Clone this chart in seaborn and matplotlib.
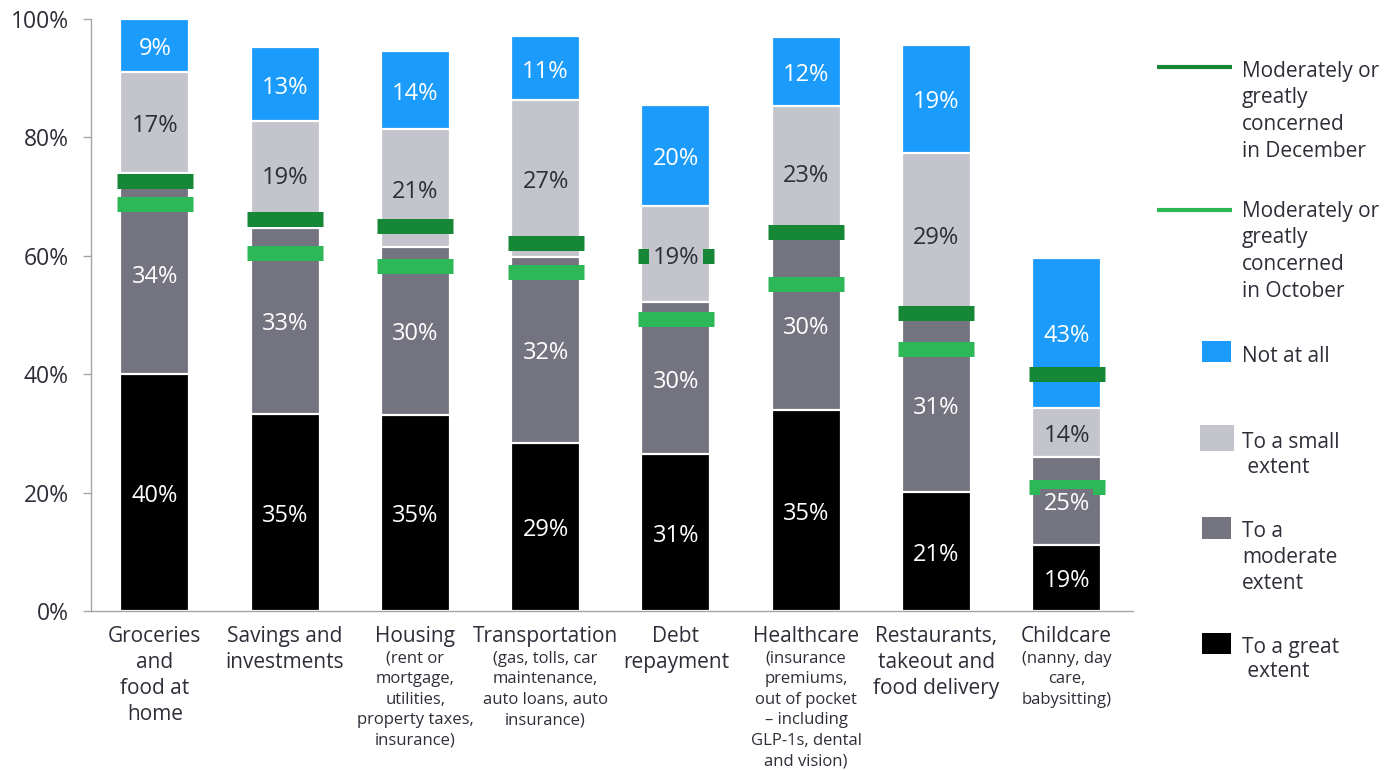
import matplotlib
matplotlib.use("Agg")
import matplotlib.pyplot as plt
from matplotlib.patches import Rectangle
from matplotlib.lines import Line2D
import numpy as np
import pandas as pd
import seaborn as sns

# ---- data ---------------------------------------------------------------
keys = ["groceries", "savings", "housing", "transport", "debt",
        "healthcare", "restaurants", "childcare"]
categories = ["Groceries\nand\nfood at\nhome", "Savings and\ninvestments",
              "Housing", "Transportation", "Debt\nrepayment", "Healthcare",
              "Restaurants,\ntakeout and\nfood delivery", "Childcare"]
details = ["", "",
           "(rent or\nmortgage,\nutilities,\nproperty taxes,\ninsurance)",
           "(gas, tolls, car\nmaintenance,\nauto loans, auto\ninsurance)",
           "",
           "(insurance\npremiums,\nout of pocket\n\u2013 including\nGLP-1s, dental\nand vision)",
           "",
           "(nanny, day\ncare,\nbabysitting)"]

# share answering each level among those to whom the expense applies (%)
great = [40, 35, 35, 29, 31, 35, 21, 19]
moderate = [34, 33, 30, 32, 30, 30, 31, 25]
small = [17, 19, 21, 27, 19, 23, 29, 14]
not_at_all = [9, 13, 14, 11, 20, 12, 19, 43]
# share of all respondents to whom the expense applies (%)
applies = [100, 95.2, 94.6, 97.1, 85.5, 96.9, 95.6, 59.7]
# moderately or greatly concerned, share of all respondents (%)
concern_dec = [72.6, 66.3, 65.0, 62.1, 59.9, 64.1, 50.3, 40.1]
concern_oct = [68.7, 60.4, 58.2, 57.2, 49.4, 55.3, 44.2, 20.9]

level_names = ["To a great extent", "To a moderate extent",
               "To a small extent", "Not at all"]

# ---- style --------------------------------------------------------------
BLUE = "#1b9bfb"
LIGHT = "#c4c4cd"
DARK = "#747480"
BLACK = "#000000"
GREEN_DEC = "#168736"
GREEN_OCT = "#2db757"
TEXT = "#2e2e38"
AXIS = "#a4a4ac"

sns.set_style("white")
plt.rcParams["font.family"] = ["Open Sans", "DejaVu Sans"]

W, H = 1398, 770
fig = plt.figure(figsize=(W / 100, H / 100), dpi=100)
ax = fig.add_axes([91 / W, 1 - 611 / H, (1133 - 91) / W, (611 - 19) / H])

# segment heights scaled to the share of respondents the expense applies to
levels = np.array([great, moderate, small, not_at_all], dtype=float)
heights = levels / levels.sum(axis=0) * np.array(applies)
bottoms = np.vstack([np.zeros(len(keys)), np.cumsum(heights, axis=0)[:-1]])
tops = bottoms + heights

df = pd.DataFrame({"key": keys})
for j, name in enumerate(level_names):
    df[name] = tops[j]

colors = [BLACK, DARK, LIGHT, BLUE]
label_colors = ["white", "white", TEXT, "white"]

# draw cumulative bars from the tallest layer down so they read as a stack
for j in range(3, -1, -1):
    sns.barplot(data=df, x="key", y=level_names[j], order=keys,
                color=colors[j], saturation=1, width=0.53, errorbar=None,
                edgecolor="white", linewidth=1.6, ax=ax, zorder=2)

xpos = np.arange(len(keys))
half = 0.292
ax.hlines(concern_dec, xpos - half, xpos + half, colors=GREEN_DEC,
          linewidth=10.8, capstyle="butt", zorder=3)
ax.hlines(concern_oct, xpos - half, xpos + half, colors=GREEN_OCT,
          linewidth=10.8, capstyle="butt", zorder=3)

for j in range(4):
    for i in range(len(keys)):
        ax.annotate(f"{int(levels[j, i])}%",
                    xy=(xpos[i], bottoms[j, i] + heights[j, i] / 2),
                    xytext=(0, -2.5), textcoords="offset points",
                    ha="center", va="center", fontsize=17,
                    color=label_colors[j], zorder=4,
                    bbox=dict(boxstyle="square,pad=0.15", fc=colors[j],
                              ec="none"))

# ---- axes ---------------------------------------------------------------
ax.set_xlim(-0.49, 7.51)
ax.set_ylim(0, 100)
ax.set_yticks(range(0, 101, 20))
ax.set_yticklabels([f"{v}%" for v in range(0, 101, 20)])
ax.set_xticks(xpos)
ax.set_xticklabels(categories, linespacing=1.3)
ax.set_xlabel("")
ax.set_ylabel("")
for side in ["top", "right"]:
    ax.spines[side].set_visible(False)
for side in ["left", "bottom"]:
    ax.spines[side].set_color(AXIS)
    ax.spines[side].set_linewidth(1.0)
ax.tick_params(axis="y", length=6, width=1, color=AXIS, pad=10,
               labelsize=16.5, labelcolor=TEXT, left=True)
ax.tick_params(axis="x", length=0, pad=11, labelsize=15, labelcolor=TEXT)

for i, d in enumerate(details):
    if d:
        ax.annotate(d, xy=(xpos[i], 0), xycoords=("data", "axes fraction"),
                    xytext=(0, -28.5), textcoords="offset points",
                    ha="center", va="top", fontsize=12, color=TEXT,
                    linespacing=1.38)

# ---- legend -------------------------------------------------------------
def fx(px):
    return px / W


def fy(py):
    return 1 - py / H


def text_lines(lines, x, base, step, size=15):
    for k, line in enumerate(lines):
        fig.text(fx(x), fy(base + k * step), line, ha="left", va="baseline",
                 fontsize=size, color=TEXT)


for y, col in [(67, GREEN_DEC), (210, GREEN_OCT)]:
    fig.add_artist(Line2D([fx(1157), fx(1232)], [fy(y), fy(y)],
                          transform=fig.transFigure, color=col,
                          linewidth=3, solid_capstyle="butt"))
text_lines(["Moderately or", "greatly", "concerned", "in December"],
           1242, 76.7, 26.7)
text_lines(["Moderately or", "greatly", "concerned", "in October"],
           1242, 216.7, 26.7)

swatches = [(BLUE, 1202, 341, 29, 21, ["Not at all"], 361.7, 26),
            (LIGHT, 1200, 425, 34, 26, ["To a small", " extent"], 448, 24.7),
            (DARK, 1202, 517, 29, 22, ["To a", "moderate", "extent"], 536.7, 26),
            (BLACK, 1202, 633, 29, 21, ["To a great", " extent"], 653.3, 23.7)]
for col, x0, y0, w, h, lines, base, step in swatches:
    fig.add_artist(Rectangle((fx(x0), fy(y0 + h)), w / W, h / H,
                             transform=fig.transFigure, facecolor=col,
                             edgecolor="none"))
    text_lines(lines, 1242, base, step)

fig.savefig("out.png", dpi=100, facecolor="white")
